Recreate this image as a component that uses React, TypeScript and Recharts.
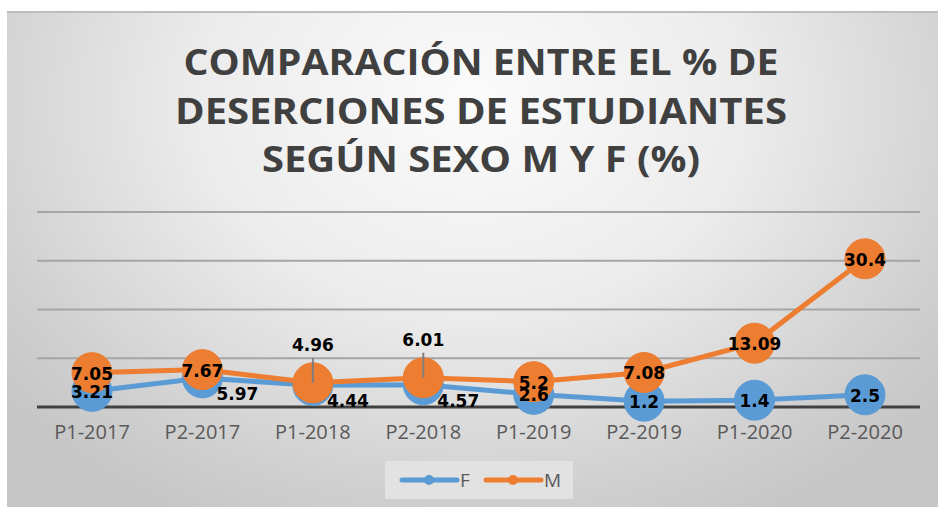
import { CartesianGrid, Line, LineChart, XAxis, YAxis } from "recharts";

const periods = [
  "P1-2017",
  "P2-2017",
  "P1-2018",
  "P2-2018",
  "P1-2019",
  "P2-2019",
  "P1-2020",
  "P2-2020",
];
const femenino = [3.21, 5.97, 4.44, 4.57, 2.6, 1.2, 1.4, 2.5];
const masculino = [7.05, 7.67, 4.96, 6.01, 5.2, 7.08, 13.09, 30.4];
const yTicks = [0, 10, 20, 30, 40];
const titleLines = [
  "COMPARACIÓN ENTRE EL % DE",
  "DESERCIONES DE ESTUDIANTES",
  "SEGÚN SEXO M Y F (%)",
];

const BLUE = "#5b9bd5";
const ORANGE = "#ed7d31";
const LABEL_FONT = "'DejaVu Sans', Verdana, sans-serif";

const rows = periods.map((period, i) => ({
  period,
  F: femenino[i],
  M: masculino[i],
}));

// labels that Excel pushed off the marker
const F_SHIFTED = new Set([1, 2, 3]);
const M_RAISED = new Set([2, 3]);

function fLabel(props: any) {
  const { x, y, value, index } = props;
  const shifted = F_SHIFTED.has(index);
  return (
    <text
      x={shifted ? x + 35 : x}
      y={shifted ? y + 16 : y + 1}
      textAnchor="middle"
      dominantBaseline="central"
      fontFamily={LABEL_FONT}
      fontWeight="bold"
      fontSize={17}
      fill="#000"
    >
      {value}
    </text>
  );
}

function mLabel(props: any) {
  const { x, y, value, index } = props;
  if (M_RAISED.has(index)) {
    return (
      <g>
        <line x1={x} y1={y - 25} x2={x} y2={y} stroke="#7f7f7f" strokeWidth={2} />
        <text
          x={x}
          y={y - 38}
          textAnchor="middle"
          dominantBaseline="central"
          fontFamily={LABEL_FONT}
          fontWeight="bold"
          fontSize={17}
          fill="#000"
        >
          {value}
        </text>
      </g>
    );
  }
  return (
    <text
      x={x}
      y={y + 1}
      textAnchor="middle"
      dominantBaseline="central"
      fontFamily={LABEL_FONT}
      fontWeight="bold"
      fontSize={17}
      fill="#000"
    >
      {value}
    </text>
  );
}

function LegendBox() {
  return (
    <svg width={188} height={38}>
      <rect x={0} y={0} width={188} height={38} fill="#e2e2e2" />
      <line x1={17} y1={19} x2={72} y2={19} stroke={BLUE} strokeWidth={5} strokeLinecap="round" />
      <circle cx={44} cy={19} r={5} fill={BLUE} />
      <text x={75} y={26} fontFamily="'Open Sans', sans-serif" fontSize={19} fill="#595959">
        F
      </text>
      <line x1={101} y1={19} x2={156} y2={19} stroke={ORANGE} strokeWidth={5} strokeLinecap="round" />
      <circle cx={128} cy={19} r={5} fill={ORANGE} />
      <text x={159} y={26} fontFamily="'Open Sans', sans-serif" fontSize={19} fill="#595959">
        M
      </text>
    </svg>
  );
}

export default function App() {
  const titleWidths = [595, 612, 438];
  return (
    <div
      style={{
        position: "fixed",
        left: 0,
        top: 0,
        width: 938,
        height: 507,
        background: "#fff",
        overflow: "hidden",
      }}
    >
      <div
        style={{
          position: "absolute",
          left: 7,
          top: 11,
          width: 931,
          height: 496,
          borderTop: "2px solid #bdbdbd",
          boxSizing: "border-box",
          background:
            "radial-gradient(ellipse 65% 95% at 50% 18%, #fbfbfb 0%, #ececec 45%, #cfcfcf 85%, #c6c6c6 100%)",
        }}
      />
      <svg
        width={938}
        height={507}
        style={{ position: "absolute", left: 0, top: 0 }}
      >
        {titleLines.map((line, i) => (
          <text
            key={line}
            x={481}
            y={75 + i * 48.5}
            textAnchor="middle"
            textLength={titleWidths[i]}
            lengthAdjust="spacingAndGlyphs"
            fontFamily="'Open Sans', sans-serif"
            fontWeight="bold"
            fontSize={36}
            fill="#404040"
          >
            {line}
          </text>
        ))}
      </svg>
      <div style={{ position: "absolute", left: 0, top: 0 }}>
        <LineChart
          width={938}
          height={507}
          data={rows}
          margin={{ top: 212, right: 18, bottom: 70, left: 37 }}
        >
          <CartesianGrid
            vertical={false}
            stroke="#a5a5a5"
            strokeWidth={2}
          />
          <XAxis
            dataKey="period"
            axisLine={{ stroke: "#404040", strokeWidth: 3 }}
            tickLine={false}
            tickMargin={12}
            height={30}
            padding={{ left: 55, right: 55 }}
            tick={{ fill: "#595959", fontSize: 20, fontFamily: "'Open Sans', sans-serif" }}
          />
          <YAxis hide domain={[0, 40]} ticks={yTicks} />
          <Line
            dataKey="F"
            stroke={BLUE}
            strokeWidth={5}
            dot={{ r: 20, fill: BLUE, stroke: BLUE, strokeWidth: 1 }}
            activeDot={false}
            label={fLabel}
            isAnimationActive={false}
          />
          <Line
            dataKey="M"
            stroke={ORANGE}
            strokeWidth={5}
            dot={{ r: 20, fill: ORANGE, stroke: ORANGE, strokeWidth: 1 }}
            activeDot={false}
            label={mLabel}
            isAnimationActive={false}
          />
        </LineChart>
      </div>
      <div style={{ position: "absolute", left: 385, top: 461 }}>
        <LegendBox />
      </div>
    </div>
  );
}
